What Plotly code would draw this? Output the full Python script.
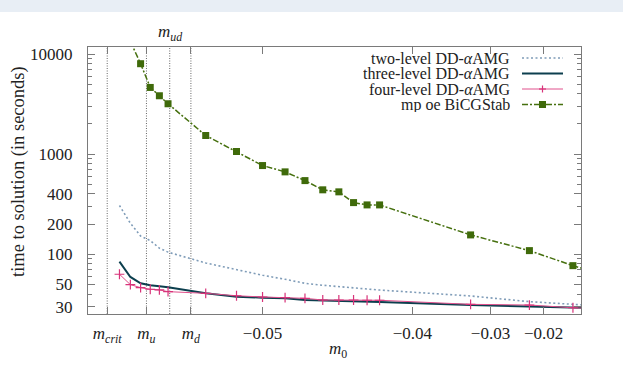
import numpy as np
import plotly.graph_objects as go

# ---------------- data ----------------
m0 = [-0.0540, -0.0538, -0.0536, -0.0534, -0.0532, -0.0530, -0.052, -0.051, -0.050,
      -0.049, -0.048, -0.047, -0.046, -0.045, -0.044, -0.043, -0.033, -0.023, -0.013, -0.003]
two_level = [307, 204, 152, 137, 115, 105, 81.8, 69.7, 61.7, 56.2, 51.3, 49.0, 47.4,
             46.0, 44.9, 43.9, 38.3, 33.6, 31.6, 30.2]
three_level = [84.3, 59.3, 51.3, 49.0, 47.9, 46.8, 40.7, 37.7, 36.8, 36.3, 34.9, 34.4,
               34.1, 33.7, 33.3, 33.3, 31.1, 30.4, 29.5, 28.8]
four_level = [63.1, 49.7, 46.4, 44.7, 44.0, 42.3, 40.7, 38.5, 37.4, 36.8, 36.3, 34.9,
              34.9, 34.9, 34.7, 34.7, 31.6, 31.1, 29.2, 28.3]
m0_bicg = [-0.0538, -0.0536, -0.0534, -0.0532, -0.0530, -0.052, -0.051, -0.050, -0.049,
           -0.048, -0.047, -0.046, -0.045, -0.044, -0.043, -0.033, -0.023, -0.013, -0.003]
bicgstab = [13400, 8000, 4634, 3828, 3184, 1535, 1062, 769, 665, 544, 440, 420, 328,
            311, 311, 156, 108.7, 76.9, 61]

special_names = ["<i>m</i><sub><i>crit</i></sub>", "<i>m</i><sub><i>u</i></sub>",
                 "<i>m</i><sub><i>ud</i></sub>", "<i>m</i><sub><i>d</i></sub>"]
special_m0 = [-0.05421, -0.05348, -0.05296, -0.05242]

x_tick_vals = [-0.05, -0.04, -0.03, -0.02]
x_tick_text = ["\u22120.05", "\u22120.04", "\u22120.03", "\u22120.02"]
y_tick_vals = [30, 50, 100, 200, 400, 1000, 10000]
y_minor_vals = [v * d for d in (10, 100, 1000) for v in range(2, 10)]

X_RANGE = [-0.05451, -0.01085]
Y_RANGE = [25.3, 11750]
SHIFT = 0.057  # horizontal scale: log(m0 + SHIFT)

series_names = ["two-level DD-<i>\u03b1</i>AMG", "three-level DD-<i>\u03b1</i>AMG",
                "four-level DD-<i>\u03b1</i>AMG", "mp oe BiCGStab"]


def tx(v):
    return np.log10(np.asarray(v, dtype=float) + SHIFT)


FONT = "Liberation Serif"
TXT = "#222222"
C_TWO = "#7f9cb8"
C_THREE = "#0c3f4e"
C_FOUR = "#e0508c"
C_PLUS = "#d8337a"
C_BICG = "#46700f"
C_SQ = "#3f6a0a"
FRAME = "#7a7a7a"
DOT = "2px,2.5px"
DASHDOT = "6px,2px,2px,2px"

fig = go.Figure()

fig.add_trace(go.Scatter(x=tx(m0), y=two_level, mode="lines", name=series_names[0],
                         line=dict(color=C_TWO, width=1.6, dash=DOT)))
fig.add_trace(go.Scatter(x=tx(m0), y=three_level, mode="lines", name=series_names[1],
                         line=dict(color=C_THREE, width=2)))
fig.add_trace(go.Scatter(x=tx(m0), y=four_level, mode="lines+markers", name=series_names[2],
                         line=dict(color=C_FOUR, width=1),
                         marker=dict(symbol="cross-thin", size=7,
                                     line=dict(color=C_PLUS, width=1.2))))
fig.add_trace(go.Scatter(x=tx(m0_bicg), y=bicgstab, mode="lines+markers", name=series_names[3],
                         line=dict(color=C_BICG, width=1.5, dash=DASHDOT),
                         marker=dict(symbol="square", size=7, color=C_SQ)))

# vertical marker lines
for xv in special_m0:
    fig.add_shape(type="line", xref="x", yref="paper", x0=float(tx(xv)), x1=float(tx(xv)),
                  y0=0, y1=1, line=dict(color="#666666", width=1, dash="1px,1.5px"),
                  layer="below")

tickvals_x = list(tx([special_m0[0], special_m0[1], special_m0[3]])) + list(tx(x_tick_vals))
ticktext_x = [special_names[0], special_names[1], special_names[3]] + x_tick_text

fig.update_xaxes(range=list(tx(X_RANGE)), showgrid=False, zeroline=False,
                 tickmode="array", tickvals=tickvals_x, ticktext=ticktext_x,
                 ticks="inside", ticklen=7, tickcolor=FRAME, tickwidth=1,
                 showline=True, linecolor=FRAME, linewidth=1, mirror="ticks",
                 tickfont=dict(family=FONT, size=17, color=TXT), ticklabelstandoff=4)
fig.update_yaxes(type="log", range=[np.log10(Y_RANGE[0]), np.log10(Y_RANGE[1])],
                 showgrid=False, zeroline=False,
                 tickmode="array", tickvals=y_tick_vals, ticktext=[str(v) for v in y_tick_vals],
                 ticks="inside", ticklen=7, tickcolor=FRAME, tickwidth=1,
                 minor=dict(tickmode="array", tickvals=y_minor_vals, ticks="inside",
                            ticklen=4, tickcolor=FRAME, showgrid=False),
                 showline=True, linecolor=FRAME, linewidth=1, mirror="ticks",
                 tickfont=dict(family=FONT, size=17, color=TXT), ticklabelstandoff=11)

W, H = 623, 365
ML, MR, MT, MB = 88, 42, 47, 51
PW, PH = W - ML - MR, H - MT - MB


def px(xp):
    return (xp - ML) / PW


def py(yp):
    return (H - MB - yp) / PH


annotations = [
    dict(text="time to solution (in seconds)", xref="paper", yref="paper",
         x=px(18), y=py(172), textangle=-90, showarrow=False,
         font=dict(family=FONT, size=18.5, color=TXT), xanchor="center", yanchor="middle"),
    dict(text="<i>m</i><sub>0</sub>", xref="paper", yref="paper", x=px(338), y=py(350),
         xanchor="center", yanchor="middle", showarrow=False,
         font=dict(family=FONT, size=17, color=TXT)),
    dict(text=special_names[2], xref="x", yref="paper", x=float(tx(special_m0[2])), y=py(33),
         xanchor="center", yanchor="middle", showarrow=False,
         font=dict(family=FONT, size=17, color=TXT)),
]

# custom legend (text right-aligned, sample to the right)
rows = [58, 73.5, 89, 104.5]
for name, yr in zip(series_names, rows):
    annotations.append(dict(text=name, xref="paper", yref="paper", x=px(512), y=py(yr),
                            xanchor="right", yanchor="middle", showarrow=False, height=15,
                            valign="middle",
                            font=dict(family=FONT, size=16, color=TXT)))
fig.update_layout(annotations=annotations)

sx0, sx1, sxc = px(522), px(563), px(542.5)
styles = [dict(color=C_TWO, width=1.6, dash=DOT), dict(color=C_THREE, width=2),
          dict(color=C_FOUR, width=1), dict(color=C_BICG, width=1.5, dash=DASHDOT)]
for st, yr in zip(styles, rows):
    fig.add_shape(type="line", xref="paper", yref="paper", x0=sx0, x1=sx1,
                  y0=py(yr), y1=py(yr), line=st)
fig.add_shape(type="line", xref="paper", yref="paper", x0=sxc, x1=sxc,
              y0=py(rows[2] - 3.5), y1=py(rows[2] + 3.5), line=dict(color=C_PLUS, width=1.2))
fig.add_shape(type="line", xref="paper", yref="paper", x0=sxc - 3.5 / PW, x1=sxc + 3.5 / PW,
              y0=py(rows[2]), y1=py(rows[2]), line=dict(color=C_PLUS, width=1.2))
fig.add_shape(type="rect", xref="paper", yref="paper", x0=sxc - 3.5 / PW, x1=sxc + 3.5 / PW,
              y0=py(rows[3] + 3.5), y1=py(rows[3] - 3.5), line=dict(width=0),
              fillcolor=C_SQ)

# top band of the page
fig.add_shape(type="rect", xref="paper", yref="paper", x0=-ML / PW, x1=1 + MR / PW,
              y0=py(12), y1=py(0), line=dict(width=0), fillcolor="#e8eef5", layer="below")

fig.update_layout(width=W, height=H, margin=dict(l=ML, r=MR, t=MT, b=MB),
                  plot_bgcolor="white", paper_bgcolor="white", showlegend=False,
                  font=dict(family=FONT))

fig.write_html("out.html")
